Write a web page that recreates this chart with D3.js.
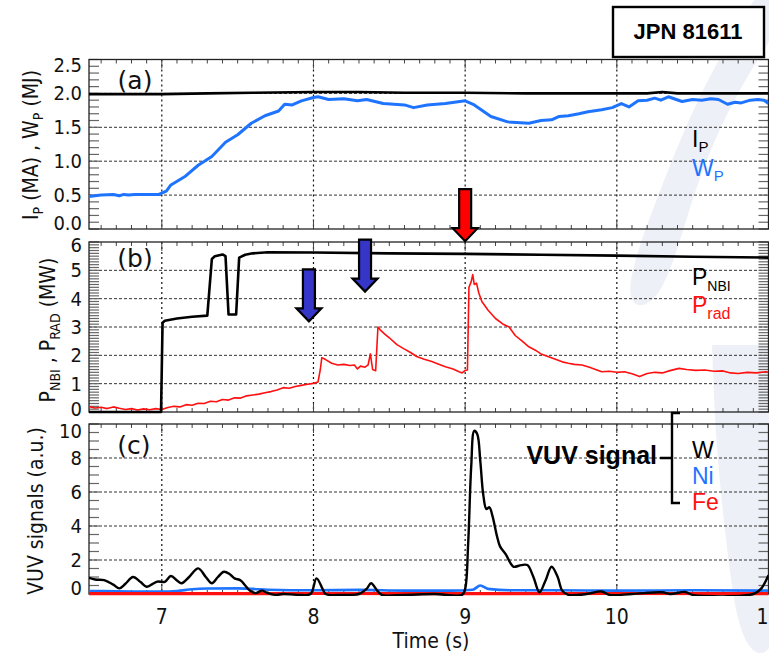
<!DOCTYPE html>
<html>
<head>
<meta charset="utf-8">
<script src="https://cdn.jsdelivr.net/npm/d3@7"></script>
<style>
  body { margin: 0; background: #fff; }
  svg { display: block; }
  .tick-label { font-family: "Liberation Sans Narrow", "DejaVu Sans Condensed", sans-serif; font-size: 21px; fill: #111; }
  .ylabel-num { font-size: 20px; }
  .ytitle { font-family: "Liberation Sans Narrow", "DejaVu Sans Condensed", sans-serif; font-size: 21px; fill: #111; }
  .legend { font-family: "Liberation Sans", "DejaVu Sans", sans-serif; font-size: 23px; }
  .panel-tag { font-family: "DejaVu Sans", sans-serif; font-size: 25px; fill: #111; }
</style>
</head>
<body>
<div id="chart"></div>
<script>
// time axis (s)
const xTicks = [7, 8, 9, 10, 11];

// (a) plasma current Ip (MA) and stored energy Wp (MJ)
const ipTime = [6.52, 7.0, 7.3, 7.6, 8.0, 8.3, 8.6, 9.0, 9.4, 9.8, 10.2, 10.3, 10.4, 10.7, 11.0];
const ipVal  = [1.99, 1.99, 2.0, 2.01, 2.02, 2.02, 2.01, 2.01, 2.0, 2.0, 2.0, 2.02, 2.0, 2.0, 2.0];
const wpTime = [6.52, 6.6, 6.68, 6.72, 6.75, 6.78, 6.82, 6.9, 6.98, 7.03, 7.06, 7.15, 7.24, 7.33, 7.42, 7.5, 7.59, 7.68, 7.77, 7.81, 7.86, 7.92, 8.0, 8.03, 8.1, 8.2, 8.29, 8.35, 8.46, 8.6, 8.66, 8.75, 8.87, 9.0, 9.06, 9.17, 9.28, 9.42, 9.5, 9.57, 9.62, 9.68, 9.75, 9.81, 9.9, 9.97, 10.03, 10.08, 10.14, 10.2, 10.25, 10.29, 10.34, 10.43, 10.5, 10.56, 10.62, 10.67, 10.73, 10.78, 10.82, 10.88, 10.93, 10.97, 11.0];
const wpVal  = [0.48, 0.5, 0.51, 0.49, 0.51, 0.5, 0.51, 0.51, 0.51, 0.56, 0.65, 0.77, 0.94, 1.07, 1.28, 1.39, 1.56, 1.67, 1.74, 1.84, 1.83, 1.89, 1.94, 1.95, 1.91, 1.92, 1.89, 1.91, 1.85, 1.83, 1.79, 1.83, 1.85, 1.89, 1.83, 1.66, 1.58, 1.56, 1.6, 1.61, 1.66, 1.67, 1.7, 1.73, 1.76, 1.79, 1.85, 1.8, 1.89, 1.9, 1.93, 1.9, 1.95, 1.88, 1.91, 1.9, 1.92, 1.91, 1.84, 1.87, 1.86, 1.9, 1.91, 1.9, 1.85];

// (b) NBI power and radiated power (MW)
const nbiTime = [6.52, 6.995, 7.005, 7.02, 7.1, 7.2, 7.3, 7.33, 7.35, 7.4, 7.42, 7.44, 7.47, 7.49, 7.51, 7.55, 7.6, 7.7, 8.0, 8.5, 9.0, 9.5, 10.0, 10.5, 11.0];
const nbiVal  = [0, 0, 3.15, 3.22, 3.3, 3.36, 3.4, 5.4, 5.5, 5.56, 5.5, 3.44, 3.44, 3.44, 5.45, 5.55, 5.6, 5.64, 5.63, 5.6, 5.58, 5.55, 5.52, 5.48, 5.45];
const radTime = [6.52, 6.56, 6.6, 6.64, 6.68, 6.72, 6.76, 6.8, 6.84, 6.88, 6.92, 6.96, 7.0, 7.04, 7.08, 7.12, 7.16, 7.2, 7.24, 7.28, 7.32, 7.36, 7.4, 7.44, 7.48, 7.52, 7.56, 7.6, 7.64, 7.68, 7.72, 7.76, 7.8, 7.84, 7.88, 7.92, 7.96, 8.0, 8.03, 8.045, 8.055, 8.08, 8.12, 8.16, 8.2, 8.24, 8.27, 8.29, 8.31, 8.34, 8.36, 8.375, 8.39, 8.41, 8.425, 8.44, 8.47, 8.5, 8.55, 8.6, 8.64, 8.68, 8.73, 8.78, 8.83, 8.87, 8.92, 8.96, 8.98, 9.0, 9.015, 9.025, 9.04, 9.05, 9.06, 9.075, 9.09, 9.11, 9.15, 9.2, 9.25, 9.29, 9.33, 9.38, 9.42, 9.46, 9.5, 9.55, 9.6, 9.64, 9.68, 9.72, 9.77, 9.82, 9.86, 9.9, 9.95, 10.0, 10.05, 10.1, 10.15, 10.2, 10.25, 10.3, 10.35, 10.41, 10.46, 10.52, 10.58, 10.64, 10.7, 10.75, 10.8, 10.86, 10.92, 10.98, 11.0];
const radVal  = [0.19, 0.14, 0.17, 0.12, 0.18, 0.13, 0.09, 0.12, 0.07, 0.11, 0.08, 0.12, 0.09, 0.16, 0.2, 0.18, 0.26, 0.24, 0.31, 0.3, 0.38, 0.36, 0.44, 0.42, 0.5, 0.49, 0.57, 0.6, 0.63, 0.68, 0.72, 0.78, 0.86, 0.84, 0.9, 0.94, 0.98, 1.01, 1.06, 1.5, 1.92, 1.85, 1.72, 1.66, 1.68, 1.64, 1.66, 1.52, 1.62, 1.58, 1.66, 2.05, 1.5, 1.46, 3.0, 2.9, 2.75, 2.62, 2.38, 2.22, 2.1, 1.96, 1.86, 1.78, 1.68, 1.6, 1.52, 1.42, 1.38, 1.47, 1.48, 4.4, 4.6, 4.85, 4.5, 4.55, 4.2, 3.9, 3.6, 3.3, 3.1, 3.0, 2.7, 2.48, 2.3, 2.19, 2.05, 1.95, 1.85, 1.77, 1.72, 1.68, 1.66, 1.58, 1.5, 1.42, 1.44, 1.4, 1.42, 1.35, 1.25, 1.36, 1.4, 1.38, 1.46, 1.54, 1.5, 1.47, 1.48, 1.44, 1.45, 1.38, 1.36, 1.4, 1.38, 1.42, 1.4];

// arrows marking events: time, tip height (MW), colour
const arrowTime = [7.97, 8.34, 9.0];
const arrowTip  = [3.2, 4.25, 6.03];
const arrowFill = ["#3535c8", "#3535c8", "#ff0000"];

// (c) VUV signals (a.u.)
const wTime = [6.52, 6.56, 6.62, 6.68, 6.72, 6.76, 6.81, 6.86, 6.9, 6.94, 6.97, 7.02, 7.06, 7.1, 7.13, 7.18, 7.24, 7.29, 7.33, 7.37, 7.41, 7.45, 7.48, 7.52, 7.55, 7.58, 7.62, 7.66, 7.7, 7.75, 7.8, 7.9, 7.98, 8.02, 8.06, 8.08, 8.2, 8.3, 8.35, 8.38, 8.42, 8.45, 8.6, 8.8, 8.98, 9.0, 9.02, 9.04, 9.06, 9.08, 9.1, 9.12, 9.14, 9.16, 9.18, 9.21, 9.23, 9.27, 9.3, 9.32, 9.37, 9.41, 9.45, 9.49, 9.53, 9.57, 9.61, 9.64, 9.68, 9.8, 9.9, 9.95, 10.1, 10.3, 10.35, 10.45, 10.5, 10.9, 10.95, 11.0];
const wVal  = [0.95, 0.85, 0.82, 0.55, 0.33, 0.6, 1.0, 0.7, 0.43, 0.6, 0.73, 0.72, 1.06, 0.8, 0.63, 1.0, 1.51, 1.0, 0.63, 1.0, 1.31, 1.15, 0.92, 0.8, 0.5, 0.2, 0.05, 0.2, 0.05, -0.05, 0.0, -0.05, 0.0, 0.92, 0.3, 0.0, -0.05, 0.0, 0.3, 0.63, 0.2, -0.05, -0.05, 0.0, -0.05, 0.3, 3.0, 7.5, 9.6, 9.4, 7.8, 5.8, 5.0, 5.1, 4.6, 3.4, 2.8, 2.3, 1.8, 1.6, 1.7, 1.7, 1.0, 0.1, 0.8, 1.6, 1.0, 0.2, -0.05, 0.0, 0.15, -0.05, 0.0, 0.1, 0.0, 0.12, -0.05, 0.0, 0.3, 1.1];
const niTime = [6.52, 6.8, 7.0, 7.1, 7.2, 7.3, 7.5, 7.6, 7.7, 8.0, 8.3, 8.6, 8.9, 9.05, 9.1, 9.15, 9.3, 9.6, 10.0, 10.5, 11.0];
const niVal  = [0.18, 0.15, 0.14, 0.18, 0.28, 0.32, 0.33, 0.3, 0.25, 0.22, 0.24, 0.2, 0.2, 0.25, 0.5, 0.3, 0.22, 0.22, 0.2, 0.22, 0.2];
const feTime = [6.52, 8.0, 9.0, 10.0, 11.0];
const feVal  = [0.02, 0.03, 0.02, 0.03, 0.02];

const yTicksA = [0, 0.5, 1.0, 1.5, 2.0, 2.5];
const yTicksB = [0, 1, 2, 3, 4, 5, 6];
const yTicksC = [0, 2, 4, 6, 8, 10];

const width = 769, height = 653;
const blue = "#1f74ff", red = "#ff1010";

const svg = d3.select("#chart").append("svg")
    .attr("width", width).attr("height", height);
svg.append("rect").attr("width", width).attr("height", height).attr("fill", "#fff");

// faint logo arc behind the plots
const bandLine = d3.line().curve(d3.curveBasis);
svg.append("path")
    .attr("d", bandLine([[757, -5], [700, 90], [660, 190], [615, 310], [662, 310], [690, 200], [730, 100], [800, -5]]) + "Z")
    .attr("fill", "#eef0f7");
svg.append("path")
    .attr("d", bandLine([[712, 345], [716, 450], [728, 560], [742, 660], [790, 660], [790, 345]]) + "Z")
    .attr("fill", "#eef0f7");

const x = d3.scaleLinear().domain([6.52, 11]).range([89, 768.5]);

// edge = [shift of top label, shift of bottom label]
function panel(top, bottom, domain, majors, minorStep, fmt, id, edge) {
  const y = d3.scaleLinear().domain(domain).range([bottom, top]);
  const g = svg.append("g");
  g.append("clipPath").attr("id", id).append("rect")
      .attr("x", x.range()[0]).attr("y", top - 2)
      .attr("width", x.range()[1] - x.range()[0]).attr("height", bottom - top + 4);

  // grid
  g.selectAll(".hgrid").data(majors.slice(1, -1)).enter().append("line")
      .attr("x1", x.range()[0]).attr("x2", x.range()[1])
      .attr("y1", d => y(d)).attr("y2", d => y(d))
      .attr("stroke", "#333").attr("stroke-width", 1).attr("stroke-dasharray", "3,2");
  g.selectAll(".vgrid").data(xTicks.slice(0, -1)).enter().append("line")
      .attr("x1", d => x(d)).attr("x2", d => x(d))
      .attr("y1", top).attr("y2", bottom)
      .attr("stroke", "#111").attr("stroke-width", 1.2).attr("stroke-dasharray", "2,3");

  // y ticks (left and right)
  const minors = d3.range(domain[0], domain[1] + minorStep / 2, minorStep);
  g.selectAll(".ltick").data(minors).enter().append("line")
      .attr("x1", x.range()[0]).attr("x2", x.range()[0] + 10)
      .attr("y1", d => y(d)).attr("y2", d => y(d))
      .attr("stroke", "#666").attr("stroke-width", 1.2);
  g.selectAll(".rtick").data(minors).enter().append("line")
      .attr("x1", x.range()[1]).attr("x2", x.range()[1] - 10)
      .attr("y1", d => y(d)).attr("y2", d => y(d))
      .attr("stroke", "#666").attr("stroke-width", 1.2);

  // x ticks (top and bottom)
  const xMinors = d3.range(6.6, 11.001, 0.1);
  [top, bottom].forEach((yy, k) => {
    const dir = k === 0 ? 1 : -1;
    g.selectAll(".xt" + k).data(xMinors).enter().append("line")
        .attr("x1", d => x(d)).attr("x2", d => x(d))
        .attr("y1", yy).attr("y2", d => yy + dir * (Math.abs(d - Math.round(d)) < 0.01 ? 9 : 4))
        .attr("stroke", "#444").attr("stroke-width", 1);
  });

  // tick labels, edge labels pulled inward a little
  const last = majors.length - 1;
  g.selectAll(".ylab").data(majors).enter().append("text")
      .attr("class", "tick-label ylabel-num")
      .attr("x", 82).attr("y", (d, i) => y(d) + 7 + (i === last ? edge[0] : i === 0 ? edge[1] : 0))
      .attr("text-anchor", "end")
      .text(d => d3.format(fmt)(d));

  // frame
  g.append("rect")
      .attr("x", x.range()[0]).attr("y", top)
      .attr("width", x.range()[1] - x.range()[0]).attr("height", bottom - top)
      .attr("fill", "none").attr("stroke", "#222").attr("stroke-width", 1.3);
  return { y, g, clip: "url(#" + id + ")" };
}

function series(p, t, v, color, w, curve) {
  const pts = t.map((d, i) => [d, v[i]]);
  p.g.append("path")
      .datum(pts)
      .attr("clip-path", p.clip)
      .attr("fill", "none").attr("stroke", color).attr("stroke-width", w)
      .attr("stroke-linejoin", "round")
      .attr("d", d3.line().x(d => x(d[0])).y(d => p.y(d[1])).curve(curve || d3.curveLinear));
}

function rich(sel, parts, subSize, shift) {
  parts.forEach(pt => {
    const ts = sel.append("tspan").text(pt.t);
    if (pt.sub) ts.attr("font-size", subSize).attr("dy", shift);
    if (pt.back) ts.attr("dy", -shift);
  });
  return sel;
}

// ---- panel (a)
const pa = panel(59.5, 229, [0, 2.5], yTicksA, 0.1, ".1f", "clipA", [5, -6]);
series(pa, ipTime, ipVal, "#000", 2.6);
series(pa, wpTime, wpVal, blue, 3);
pa.g.append("text").attr("class", "panel-tag").attr("x", 135).attr("y", 89).attr("text-anchor", "middle").text("(a)");
rich(pa.g.append("text").attr("class", "legend").attr("x", 692).attr("y", 147).attr("fill", "#000"),
    [{ t: "I" }, { t: "P", sub: true }], 15, 5);
rich(pa.g.append("text").attr("class", "legend").attr("x", 692).attr("y", 176).attr("fill", blue),
    [{ t: "W" }, { t: "P", sub: true }], 15, 5);
rich(svg.append("text").attr("class", "ytitle")
    .attr("transform", "translate(38,145) rotate(-90)").attr("text-anchor", "middle"),
    [{ t: "I" }, { t: "P", sub: true }, { t: " (MA) , W", back: true }, { t: "P", sub: true }, { t: " (MJ)", back: true }], 14, 5);

// ---- panel (b)
const pb = panel(242, 412, [0, 6], yTicksB, 0.1, "d", "clipB", [3, -3]);
series(pb, radTime, radVal, red, 1.6);
series(pb, nbiTime, nbiVal, "#000", 2.6);
pb.g.append("text").attr("class", "panel-tag").attr("x", 135).attr("y", 267).attr("text-anchor", "middle").text("(b)");
rich(pb.g.append("text").attr("class", "legend").attr("x", 692).attr("y", 285).attr("fill", "#000").attr("font-size", 25),
    [{ t: "P" }, { t: "NBI", sub: true }], 14, 6);
rich(pb.g.append("text").attr("class", "legend").attr("x", 692).attr("y", 313).attr("fill", red).attr("font-size", 25),
    [{ t: "P" }, { t: "rad", sub: true }], 16, 6);
rich(svg.append("text").attr("class", "ytitle")
    .attr("transform", "translate(55,330) rotate(-90)").attr("text-anchor", "middle"),
    [{ t: "P" }, { t: "NBI", sub: true }, { t: " , P", back: true }, { t: "RAD", sub: true }, { t: " (MW)", back: true }], 14, 5);

// event arrows
const arrowLen = 52, shaftW = 12, headW = 25, headL = 13;
pb.g.selectAll(".arrow").data(arrowTime).enter().append("path")
    .attr("d", (d, i) => {
      const cx = x(d), tip = pb.y(arrowTip[i]);
      const s = shaftW / 2, h = headW / 2;
      return d3.line()([[cx - s, tip - arrowLen], [cx + s, tip - arrowLen], [cx + s, tip - headL],
        [cx + h, tip - headL], [cx, tip], [cx - h, tip - headL], [cx - s, tip - headL]]) + "Z";
    })
    .attr("fill", (d, i) => arrowFill[i])
    .attr("stroke", "#000").attr("stroke-width", 2.2).attr("stroke-linejoin", "miter");

// ---- panel (c)
const pc = panel(424, 594, [0, 10], yTicksC, 0.5, "d", "clipC", [7, -6]);
series(pc, niTime, niVal, blue, 2.6, d3.curveMonotoneX);
series(pc, feTime, feVal, red, 3.2);
series(pc, wTime, wVal, "#000", 2.4, d3.curveCatmullRom);
pc.g.append("text").attr("class", "panel-tag").attr("x", 134).attr("y", 454).attr("text-anchor", "middle").text("(c)");
svg.append("text").attr("class", "ytitle")
    .attr("transform", "translate(43,511) rotate(-90)").attr("text-anchor", "middle")
    .text("VUV signals (a.u.)");

const vuvNames = ["W", "Ni", "Fe"], vuvColors = ["#000", blue, red];
pc.g.selectAll(".vuvleg").data(vuvNames).enter().append("text")
    .attr("class", "legend")
    .attr("x", 692).attr("y", (d, i) => 458 + i * 26)
    .attr("fill", (d, i) => vuvColors[i])
    .text(d => d);
pc.g.append("text")
    .attr("x", 657).attr("y", 464).attr("text-anchor", "end")
    .attr("font-family", "Liberation Sans, Arial, sans-serif").attr("font-weight", "bold").attr("font-size", 25)
    .text("VUV signal");
pc.g.append("path")
    .attr("d", "M680,413 L672,413 L672,503 L680,503 M672,458 L660,458")
    .attr("fill", "none").attr("stroke", "#000").attr("stroke-width", 2.4);

// x axis labels
svg.selectAll(".xlab").data(xTicks).enter().append("text")
    .attr("class", "tick-label")
    .attr("x", d => x(d)).attr("y", 624)
    .attr("text-anchor", "middle")
    .text(d => d);
svg.append("text").attr("class", "tick-label")
    .attr("x", 431).attr("y", 648).attr("text-anchor", "middle")
    .text("Time (s)");

// shot label
svg.append("rect").attr("x", 613).attr("y", 7).attr("width", 151).attr("height", 50)
    .attr("fill", "#fff").attr("stroke", "#000").attr("stroke-width", 2.4);
svg.append("text").attr("x", 688).attr("y", 39).attr("text-anchor", "middle")
    .attr("font-family", "Liberation Sans, Arial, sans-serif").attr("font-weight", "bold").attr("font-size", 22)
    .text("JPN 81611");
</script>
</body>
</html>
